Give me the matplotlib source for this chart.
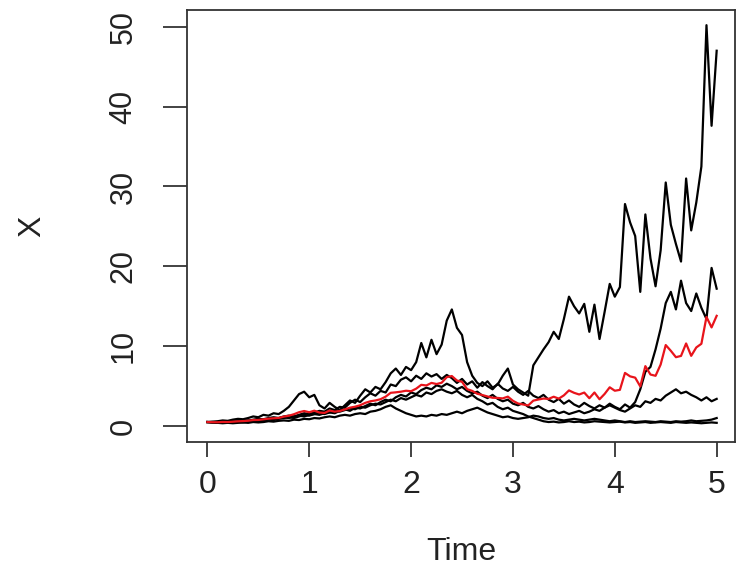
import numpy as np
import matplotlib
matplotlib.use('Agg')
import matplotlib.pyplot as plt

plt.rcParams['font.family'] = ['Liberation Sans', 'DejaVu Sans']

# ============================================================================
# 1. DATA (time step 0.05)
# ============================================================================
time = np.linspace(0, 5, 101)

path_a = [0.5, 0.55, 0.6, 0.7, 0.65, 0.8, 0.9, 0.85, 1.0, 1.2,
          1.1, 1.4, 1.3, 1.6, 1.5, 1.9, 2.4, 3.2, 4.0, 4.3,
          3.6, 3.9, 2.6, 2.2, 2.9, 2.4, 2.0, 2.6, 3.2, 2.9,
          3.8, 4.6, 4.2, 4.9, 4.6, 5.5, 6.6, 7.2, 6.4, 7.4,
          7.0, 8.0, 10.4, 8.6, 10.8, 9.0, 10.2, 13.2, 14.6, 12.3,
          11.4, 8.0, 6.3, 5.4, 5.0, 5.6, 4.8, 5.2, 6.3, 7.2,
          5.2, 4.6, 4.2, 3.8, 7.6, 8.6, 9.6, 10.5, 11.8, 10.9,
          13.4, 16.2, 15.0, 14.1, 15.3, 11.8, 15.2, 10.9, 14.3, 17.8,
          16.2, 17.4, 27.8, 25.5, 23.8, 16.8, 26.5, 21.0, 17.5, 22.0,
          30.5, 25.2, 22.8, 20.6, 31.0, 24.5, 28.0, 32.5, 50.2, 37.6,
          47.0]

path_b = [0.5, 0.5, 0.45, 0.5, 0.55, 0.5, 0.6, 0.7, 0.65, 0.8,
          0.9, 0.85, 1.0, 1.1, 1.0, 1.2, 1.3, 1.2, 1.4, 1.6,
          1.5, 1.7, 1.9, 1.8, 2.2, 2.0, 2.4, 2.3, 2.9, 3.3,
          3.0, 3.6, 4.1, 3.8, 4.4, 4.2, 5.2, 5.0, 5.8, 6.1,
          5.6, 6.3, 5.9, 6.6, 6.2, 6.5, 5.9, 6.4, 6.0, 5.4,
          5.9, 5.2, 5.6, 4.8, 5.5, 5.0, 4.6, 5.3, 4.7, 4.4,
          4.9, 4.3, 3.9, 4.4, 3.8, 3.5, 3.9, 3.3, 3.0, 3.4,
          2.8, 3.2, 2.7, 2.4, 2.9, 2.5, 2.2, 2.6, 2.3, 2.8,
          2.4, 2.1, 2.7, 2.3, 3.0, 4.6, 6.8, 7.4, 9.6, 12.2,
          15.4, 16.8, 14.6, 18.2, 15.4, 14.4, 16.6, 14.8, 13.4, 19.8,
          17.2]

path_c = [0.5, 0.45, 0.5, 0.55, 0.5, 0.6, 0.55, 0.65, 0.7, 0.65,
          0.8, 0.75, 0.9, 0.85, 1.0, 1.1, 1.0, 1.2, 1.3, 1.2,
          1.4, 1.5, 1.4, 1.6, 1.7, 1.6, 1.9, 2.1, 1.9, 2.3,
          2.2, 2.5, 2.8, 2.6, 3.0, 3.3, 3.1, 3.6, 3.9, 3.7,
          4.2, 4.0, 4.5, 4.8, 4.6, 5.1, 4.9, 5.3, 5.0, 4.6,
          4.9, 4.4, 4.1, 4.3, 3.8, 3.5, 3.9, 3.4, 3.1, 3.3,
          2.8, 2.6, 2.9, 2.4, 2.2, 2.5, 2.1, 1.8, 2.0, 1.6,
          1.8, 1.5, 1.7, 1.9, 1.6, 1.8, 2.1, 1.9, 2.3, 2.6,
          2.3, 2.0, 1.8, 2.2, 2.6, 2.4, 3.1, 2.9, 3.4, 3.2,
          3.8, 4.2, 4.6, 4.1, 4.3, 3.9, 3.6, 3.2, 3.6, 3.1,
          3.4]

path_d = [0.5, 0.45, 0.4, 0.45, 0.4, 0.45, 0.5, 0.45, 0.55, 0.6,
          0.55, 0.7, 0.8, 0.75, 0.9, 1.0, 1.1, 1.0, 1.2, 1.4,
          1.3, 1.5, 1.6, 1.5, 1.7, 1.9, 1.8, 2.0, 2.2, 2.1,
          2.4, 2.3, 2.6, 2.8, 2.7, 3.0, 3.3, 3.1, 3.5, 3.3,
          3.6, 3.9, 3.7, 4.2, 4.0, 4.4, 4.6, 4.3, 4.1, 4.4,
          3.9, 3.6, 3.9, 3.4, 3.1, 2.7, 2.9, 2.4, 2.1, 2.3,
          1.9, 1.7, 1.5, 1.2, 1.0, 0.8, 0.6, 0.5, 0.55, 0.45,
          0.5, 0.6, 0.5, 0.55, 0.45, 0.5, 0.6, 0.55, 0.5, 0.45,
          0.5, 0.55, 0.45, 0.5, 0.4, 0.45, 0.5, 0.4, 0.45, 0.5,
          0.45, 0.4, 0.5, 0.45, 0.4, 0.45, 0.4, 0.35, 0.4, 0.45,
          0.4]

path_e = [0.5, 0.45, 0.4, 0.35, 0.4, 0.35, 0.4, 0.45, 0.4, 0.5,
          0.45, 0.5, 0.6, 0.55, 0.65, 0.7, 0.65, 0.8, 0.75, 0.9,
          0.85, 1.0, 0.95, 1.1, 1.2, 1.1, 1.3, 1.4, 1.3, 1.5,
          1.6, 1.5, 1.8, 1.9, 2.1, 2.4, 2.6, 2.2, 1.9, 1.6,
          1.4, 1.2, 1.3, 1.2, 1.4, 1.3, 1.5, 1.4, 1.6, 1.8,
          1.6, 1.9, 2.1, 2.3, 2.0, 1.7, 1.5, 1.3, 1.1, 1.2,
          1.0, 0.9, 1.0, 1.1, 1.3, 1.2, 1.0, 0.9, 1.0, 0.8,
          0.7, 0.8, 0.9, 0.8, 0.7, 0.8, 0.9, 0.8, 0.7, 0.6,
          0.7, 0.6, 0.5, 0.6, 0.5, 0.55, 0.6, 0.55, 0.5, 0.6,
          0.55, 0.5, 0.6, 0.55, 0.6, 0.7, 0.6, 0.65, 0.7, 0.8,
          1.0]

# red curve (average path)
path_mean = [0.5, 0.48, 0.47, 0.51, 0.5, 0.54, 0.59, 0.62, 0.66, 0.75,
             0.76, 0.84, 0.92, 0.97, 1.01, 1.18, 1.29, 1.48, 1.73, 1.88,
             1.73, 1.92, 1.69, 1.64, 1.94, 1.8, 1.88, 2.08, 2.3, 2.42,
             2.6, 2.9, 3.1, 3.2, 3.36, 3.68, 4.16, 4.22, 4.3, 4.42,
             4.36, 4.68, 5.16, 5.08, 5.4, 5.26, 5.42, 6.12, 6.26, 5.7,
             5.54, 4.62, 4.4, 4.04, 3.88, 3.7, 3.54, 3.52, 3.46, 3.68,
             3.16, 2.82, 2.7, 2.58, 3.18, 3.32, 3.44, 3.4, 3.67, 3.43,
             3.84, 4.46, 4.16, 3.95, 4.19, 3.48, 4.2, 3.35, 4.02, 4.85,
             4.42, 4.53, 6.65, 6.22, 6.06, 4.96, 7.5, 6.45, 6.29, 7.7,
             10.14, 9.42, 8.62, 8.78, 10.34, 8.79, 9.84, 10.3, 13.66, 12.35,
             13.8]

black_paths = [path_a, path_b, path_c, path_d, path_e]

# ============================================================================
# 2. PLOT (base-R look)
# ============================================================================
fig = plt.figure(figsize=(7.43, 5.72), dpi=100)
ax = fig.add_axes([187 / 743, 130 / 572, 548 / 743, 432 / 572])

for p in black_paths:
    ax.plot(time, p, color='black', linewidth=1.6)
ax.plot(time, path_mean, color='#e8141b', linewidth=1.6)

ax.set_xlim(-0.2, 5.18)
ax.set_ylim(-2.0, 52.1)
ax.set_xticks([0, 1, 2, 3, 4, 5])
ax.set_yticks([0, 10, 20, 30, 40, 50])

for s in ax.spines.values():
    s.set_linewidth(1.3)
    s.set_color('#333333')

ax.tick_params(axis='x', length=11, width=1.2, pad=9, labelsize=23, colors='#222222')
ax.tick_params(axis='y', length=17, width=1.2, pad=18, labelsize=22, colors='#222222',
               labelrotation=90)
for lbl in ax.get_yticklabels():
    lbl.set_va('center')

ax.set_xlabel('Time', fontsize=23, color='#222222')
ax.xaxis.set_label_coords(0.5, -0.255)
ax.xaxis.label.set_va('center')
ax.set_ylabel('X', fontsize=23, color='#222222')
ax.yaxis.set_label_coords(-0.283, 0.5)
ax.yaxis.label.set_va('center')

fig.savefig('out.png', dpi=100)
